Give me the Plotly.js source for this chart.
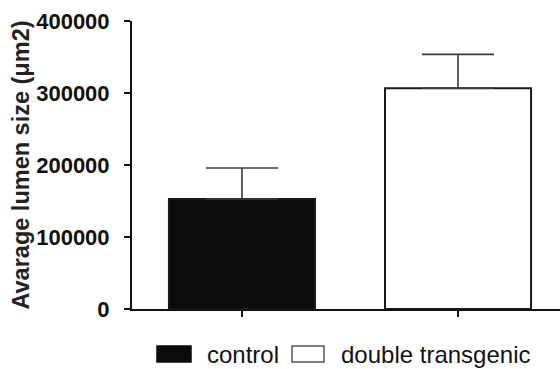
<!DOCTYPE html>
<html>
<head>
<meta charset="utf-8">
<script src="https://cdn.plot.ly/plotly-3.0.1.min.js"></script>
<style>html,body{margin:0;padding:0;background:#fff;}#chart{width:560px;height:369px;}</style>
</head>
<body>
<div id="chart"></div>
<script>
// ---- data ----
const categories = ['control', 'double transgenic'];
const meanValues = [152800, 306500];
const errorUpper = [43000, 47200];
const barFills = ['#0b0b0b', '#ffffff'];
const yTickValues = [0, 100000, 200000, 300000, 400000];
const yTickLabels = ['0', '100000', '200000', '300000', '400000'];
const yTitle = 'Avarage lumen size (μm2)';

// ---- layout geometry ----
const W = 560, H = 369;
const M = {l: 132, r: 0, t: 21, b: 60};
const PW = W - M.l - M.r, PH = H - M.t - M.b;
const px2x = p => (p - M.l) / PW;
const py2y = p => (H - M.b - p) / PH;

const trace = {
  type: 'bar',
  x: categories,
  y: meanValues,
  width: 0.676,
  marker: {color: barFills, line: {color: '#1a1a1a', width: 2}},
  error_y: {
    type: 'data', symmetric: false,
    array: errorUpper, arrayminus: [0, 0],
    color: '#3a3a3a', thickness: 1.6, width: 36
  },
  showlegend: false,
  hoverinfo: 'none'
};

// custom legend (boxes + labels)
const legendBoxes = [
  {x0: 157, x1: 191, fill: barFills[0], line: '#0b0b0b'},
  {x0: 292, x1: 324, fill: barFills[1], line: '#555555'}
];
const legendTextX = [207, 341];
const shapes = legendBoxes.map(b => ({
  type: 'rect', xref: 'paper', yref: 'paper',
  x0: px2x(b.x0), x1: px2x(b.x1), y0: py2y(362), y1: py2y(346),
  fillcolor: b.fill, line: {color: b.line, width: 1.5}
}));
const annotations = categories.map((c, i) => ({
  text: c, xref: 'paper', yref: 'paper',
  x: px2x(legendTextX[i] - 2), y: py2y(354),
  xanchor: 'left', yanchor: 'middle', showarrow: false,
  font: {family: 'Liberation Sans, Arial, sans-serif', size: 24, color: '#111'}
}));

const layout = {
  width: W, height: H,
  margin: M,
  paper_bgcolor: '#ffffff', plot_bgcolor: '#ffffff',
  font: {family: 'Liberation Sans, Arial, sans-serif', color: '#111'},
  xaxis: {
    type: 'category',
    range: [-0.509, 1.472],
    showgrid: false, zeroline: false,
    showline: true, linecolor: '#111', linewidth: 2,
    ticks: 'outside', ticklen: 6, tickwidth: 2, tickcolor: '#111',
    showticklabels: false
  },
  yaxis: {
    range: [0, 400000],
    tickvals: yTickValues, ticktext: yTickLabels,
    showgrid: false, zeroline: false,
    showline: true, linecolor: '#111', linewidth: 2,
    ticks: 'outside', ticklen: 6, tickwidth: 2, tickcolor: '#111',
    ticklabelstandoff: 10,
    tickfont: {family: 'Liberation Sans, Arial, sans-serif', size: 22, weight: 'bold', color: '#111'},
    title: {text: yTitle, standoff: 0,
      font: {family: 'Liberation Sans, Arial, sans-serif', size: 23.5, weight: 'bold', color: '#222'}}
  },
  shapes: shapes,
  annotations: annotations,
  showlegend: false
};

Plotly.newPlot('chart', [trace], layout, {staticPlot: true, displayModeBar: false});
</script>
</body>
</html>
